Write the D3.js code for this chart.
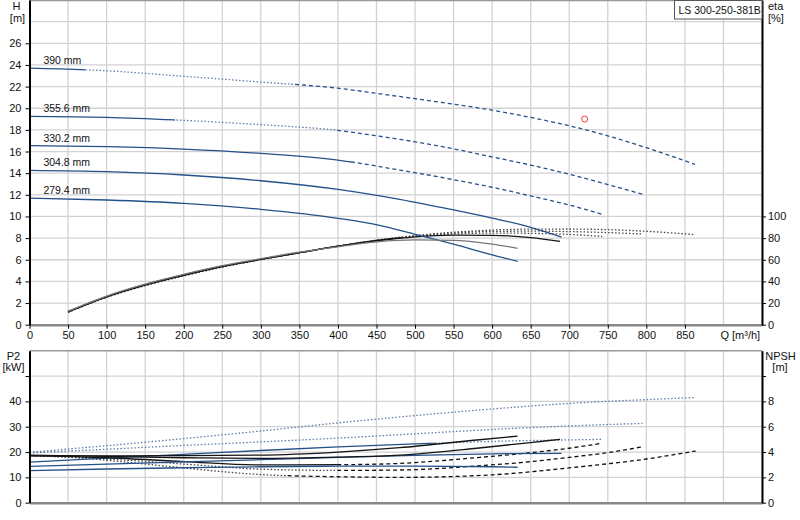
<!DOCTYPE html>
<html>
<head>
<meta charset="utf-8">
<script src="https://cdn.jsdelivr.net/npm/d3@7"></script>
<style>
  body { margin: 0; background: #fff; }
  svg { font-family: "Liberation Sans", Arial, sans-serif; font-size: 11px; }
</style>
</head>
<body>
<svg width="800" height="520"></svg>
<script>
// impeller diameters (same order in every array below)
const diameters = ["390 mm", "355.6 mm", "330.2 mm", "304.8 mm", "279.4 mm"];

// head curves: Q [m3/h] -> H [m]
const headQ = [
  [0, 100, 200, 300, 400, 450, 500, 550, 600, 650, 700, 750, 800, 863],
  [0, 100, 200, 300, 400, 450, 500, 550, 600, 650, 700, 750, 795],
  [0, 100, 200, 300, 400, 480, 550, 600, 650, 700, 743],
  [0, 100, 200, 300, 400, 480, 550, 600, 650, 690],
  [0, 100, 200, 300, 400, 454, 500, 550, 600, 633]
];
const headH = [
  [23.7, 23.46, 22.95, 22.42, 21.85, 21.38, 20.88, 20.38, 19.82, 19.15, 18.38, 17.45, 16.35, 14.82],
  [19.25, 19.16, 18.88, 18.48, 17.95, 17.45, 16.9, 16.25, 15.5, 14.75, 13.9, 12.95, 12.05],
  [16.54, 16.45, 16.23, 15.83, 15.21, 14.29, 13.4, 12.7, 11.9, 11.05, 10.2],
  [14.26, 14.14, 13.83, 13.3, 12.5, 11.58, 10.6, 9.85, 9.0, 8.1],
  [11.7, 11.52, 11.21, 10.66, 9.83, 9.18, 8.35, 7.45, 6.45, 5.86]
];

// efficiency curves: Q [m3/h] -> eta [%]
const etaQ = [
  [50, 100, 150, 200, 250, 300, 350, 400, 450, 500, 550, 600, 650, 700, 750, 800, 863],
  [50, 100, 150, 200, 250, 300, 350, 400, 450, 500, 550, 600, 650, 700, 750, 795],
  [50, 100, 150, 200, 250, 300, 350, 400, 450, 500, 550, 600, 650, 700, 743],
  [50, 100, 150, 200, 250, 300, 350, 400, 450, 500, 550, 600, 650, 688],
  [50, 100, 150, 200, 250, 300, 350, 400, 450, 500, 550, 600, 633]
];
const etaVal = [
  [11.4, 25.3, 36.1, 45.1, 53.2, 60.1, 66.5, 72.5, 78, 82.3, 85.4, 87.4, 88.3, 88.4, 87.8, 86.3, 83.2],
  [11.6, 25.5, 36.3, 45.3, 53.4, 60.2, 66.5, 72.5, 78, 82, 84.8, 86.2, 86.4, 86, 85.1, 83.8],
  [11.8, 25.7, 36.6, 45.6, 53.6, 60.3, 66.5, 72.5, 77.8, 81.5, 83.8, 84.7, 84.4, 83.4, 81.6],
  [12, 26, 37, 46, 54, 60.5, 66.5, 72.5, 77.5, 81.2, 82.8, 82.6, 80.5, 77],
  [12.5, 26.5, 37.5, 46.5, 54.5, 61, 67, 72, 76.5, 78.3, 78, 74.5, 70.6]
];

// shaft power curves: Q [m3/h] -> P2 [kW]
const powerQ = [
  [0, 100, 200, 300, 400, 500, 600, 700, 800, 863],
  [0, 100, 200, 300, 400, 500, 600, 700, 795],
  [0, 100, 200, 300, 400, 500, 600, 700, 743],
  [0, 100, 200, 300, 400, 500, 600, 690],
  [0, 100, 200, 300, 400, 500, 600, 633]
];
const powerVal = [
  [19.9, 22.5, 25.3, 28.3, 31.5, 34.4, 37, 39.2, 40.7, 41.5],
  [19.6, 21.1, 22.6, 24.0, 25.5, 27.2, 28.9, 30.3, 31.3],
  [16.0, 17.6, 19.1, 20.6, 22.0, 23.2, 24.2, 24.8, 25.0],
  [14.3, 15.2, 16.1, 17.0, 17.9, 18.7, 19.3, 19.5],
  [12.7, 13.3, 13.8, 14.2, 14.4, 14.4, 14.2, 14.0]
];

// NPSH curves: Q [m3/h] -> NPSH [m]
const npshQ = [
  [0, 50, 100, 150, 200, 250, 300, 400, 480, 600, 700, 800, 864],
  [0, 100, 200, 300, 400, 480, 580, 650, 700, 750, 795],
  [0, 100, 200, 300, 400, 480, 580, 650, 700, 741],
  [0, 100, 200, 300, 400, 480, 580, 650, 688],
  [0, 100, 200, 300, 400, 480, 580, 633]
];
const npshVal = [
  [3.72, 3.6, 3.35, 3.05, 2.75, 2.45, 2.22, 2.05, 2.0, 2.2, 2.75, 3.45, 4.08],
  [3.72, 3.45, 3.05, 2.65, 2.55, 2.58, 2.9, 3.24, 3.58, 3.95, 4.42],
  [3.72, 3.55, 3.25, 2.98, 3.0, 3.1, 3.56, 3.95, 4.3, 4.68],
  [3.75, 3.65, 3.55, 3.5, 3.6, 3.76, 4.3, 4.75, 5.0],
  [3.7, 3.7, 3.72, 3.76, 4.0, 4.34, 4.95, 5.26]
];

// duty point
const dutyQ = 720, dutyH = 19;

// tick values
const qTicks = d3.range(0, 851, 50);
const hTicks = d3.range(0, 27, 2);
const etaTicks = d3.range(0, 101, 20);
const p2Ticks = d3.range(0, 41, 10);
const npshTicks = d3.range(0, 9, 2);

// line style segments (Q ranges) per diameter
const headSegs = [
  [[0, 70, "solid"], [70, 340, "dot"], [340, 1000, "dash"]],
  [[0, 186, "solid"], [186, 395, "dot"], [395, 1000, "dash"]],
  [[0, 415, "solid"], [415, 1000, "dash"]],
  [[0, 1000, "solid"]],
  [[0, 1000, "solid"]]
];
const etaSegs = [
  [[0, 1000, "dot"]],
  [[0, 1000, "dot"]],
  [[0, 480, "solid"], [480, 1000, "dot"]],
  [[0, 1000, "solid"]],
  [[0, 1000, "gray"]]
];
const powerSegs = [
  [[0, 1000, "dot"]],
  [[0, 1000, "dot"]],
  [[0, 525, "solid"], [525, 1000, "dot"]],
  [[0, 1000, "solid"]],
  [[0, 1000, "solid"]]
];
const npshSegs = [
  [[0, 330, "dot"], [330, 1000, "dash"]],
  [[0, 400, "dot"], [400, 1000, "dash"]],
  [[0, 400, "solid"], [400, 1000, "dash"]],
  [[0, 1000, "solid"]],
  [[0, 1000, "solid"]]
];

const styles = {
  blue: {
    solid: {stroke: "#24508a", dash: null},
    dot: {stroke: "#5f7ca6", dash: "1.5,2"},
    dash: {stroke: "#24508a", dash: "4,3"},
    gray: {stroke: "#8a93a8", dash: null}
  },
  black: {
    solid: {stroke: "#151515", dash: null},
    dot: {stroke: "#444", dash: "1.5,2"},
    dash: {stroke: "#111", dash: "4,3"},
    gray: {stroke: "#777", dash: null}
  }
};

const svg = d3.select("svg");

const x = d3.scaleLinear().domain([0, 950]).range([29.5, 762]);
const yH = d3.scaleLinear().domain([0, 30]).range([324.7, 0]);
const yEta = d3.scaleLinear().domain([0, 300]).range([324.7, 0]);
const yP = d3.scaleLinear().domain([0, 60]).range([502.7, 350.7]);
const yN = d3.scaleLinear().domain([0, 12]).range([502.7, 350.7]);

const defs = svg.append("defs");
let clipId = 0;

// grid
const grid = svg.append("g").attr("stroke", "#d2d2d2").attr("stroke-width", 1.3);
d3.range(50, 951, 50).forEach(q => {
  grid.append("line").attr("x1", x(q)).attr("x2", x(q)).attr("y1", yH(30)).attr("y2", yH(0));
  grid.append("line").attr("x1", x(q)).attr("x2", x(q)).attr("y1", yP(60)).attr("y2", yP(0));
});
d3.range(2, 30, 2).forEach(h => {
  grid.append("line").attr("x1", x(0)).attr("x2", x(950)).attr("y1", yH(h)).attr("y2", yH(h));
});
d3.range(10, 60, 10).forEach(p => {
  grid.append("line").attr("x1", x(0)).attr("x2", x(950)).attr("y1", yP(p)).attr("y2", yP(p));
});

// frame tops
svg.append("line").attr("x1", x(0)).attr("x2", x(950)).attr("y1", 0.5).attr("y2", 0.5)
  .attr("stroke", "#999").attr("stroke-width", 1.5);
svg.append("line").attr("x1", x(0)).attr("x2", x(950)).attr("y1", yP(60)).attr("y2", yP(60))
  .attr("stroke", "#999").attr("stroke-width", 1.5);

function drawCurve(g, qs, vs, yScale, segs, family) {
  const pts = qs.map((q, i) => [q, vs[i]]);
  const d = d3.line().x(p => x(p[0])).y(p => yScale(p[1])).curve(d3.curveMonotoneX)(pts);
  segs.forEach(s => {
    const id = "clip" + (clipId++);
    defs.append("clipPath").attr("id", id).append("rect")
      .attr("x", x(s[0])).attr("y", 0)
      .attr("width", x(Math.min(s[1], 950)) - x(s[0]) + 2).attr("height", 520);
    const st = styles[family][s[2]];
    g.append("path")
      .attr("d", d)
      .attr("clip-path", `url(#${id})`)
      .attr("fill", "none")
      .attr("stroke", st.stroke)
      .attr("stroke-width", 1.3)
      .attr("stroke-dasharray", st.dash);
  });
}

const curves = svg.append("g");
diameters.forEach((name, i) => {
  drawCurve(curves, headQ[i], headH[i], yH, headSegs[i], "blue");
  drawCurve(curves, etaQ[i], etaVal[i], yEta, etaSegs[i], "black");
  drawCurve(curves, powerQ[i], powerVal[i], yP, powerSegs[i], "blue");
  drawCurve(curves, npshQ[i], npshVal[i], yN, npshSegs[i], "black");

  svg.append("text")
    .attr("x", x(18))
    .attr("y", yH(headH[i][0]) - 8)
    .attr("dominant-baseline", "central")
    .style("font-size", "10.5px")
    .attr("fill", "#111")
    .text(name);
});

// duty point
svg.append("circle")
  .attr("cx", x(dutyQ)).attr("cy", yH(dutyH)).attr("r", 3)
  .attr("fill", "none").attr("stroke", "#f03c3c").attr("stroke-width", 1);

// axes
function styleAxis(g, color, width) {
  g.select(".domain").attr("stroke", color).attr("stroke-width", width);
  g.selectAll(".tick line").attr("stroke", "#000");
  g.selectAll(".tick text").attr("fill", "#111").style("font-size", "11px")
    .style("font-family", "'Liberation Sans', Arial, sans-serif");
}

styleAxis(svg.append("g").attr("transform", `translate(0,${yH(0)})`)
  .call(d3.axisBottom(x).tickValues(qTicks).tickSize(4).tickPadding(3).tickSizeOuter(0)), "#888", 2.5);
styleAxis(svg.append("g").attr("transform", `translate(${x(0)},0)`)
  .call(d3.axisLeft(yH).tickValues(hTicks).tickSize(4).tickPadding(4).tickSizeOuter(0)), "#000", 2);
styleAxis(svg.append("g").attr("transform", `translate(${x(950)},0)`)
  .call(d3.axisRight(yEta).tickValues(etaTicks).tickSize(4).tickPadding(2).tickSizeOuter(0)), "#000", 2);

styleAxis(svg.append("g").attr("transform", `translate(0,${yP(0)})`)
  .call(d3.axisBottom(x).tickValues([]).tickSizeOuter(0)), "#888", 2.5);
styleAxis(svg.append("g").attr("transform", `translate(${x(0)},0)`)
  .call(d3.axisLeft(yP).tickValues(p2Ticks.concat([50])).tickFormat(v => v === 50 ? "" : v)
    .tickSize(4).tickPadding(4).tickSizeOuter(0)), "#000", 2);
styleAxis(svg.append("g").attr("transform", `translate(${x(950)},0)`)
  .call(d3.axisRight(yN).tickValues(npshTicks.concat([10])).tickFormat(v => v === 10 ? "" : v)
    .tickSize(4).tickPadding(2).tickSizeOuter(0)), "#000", 2);

// axis titles
const titles = svg.append("g").attr("fill", "#111").style("font-size", "11px")
  .attr("dominant-baseline", "central");
titles.append("text").attr("x", 16.5).attr("y", 6).attr("text-anchor", "middle").text("H");
titles.append("text").attr("x", 17.5).attr("y", 18).attr("text-anchor", "middle").text("[m]");
titles.append("text").attr("x", 768).attr("y", 6).text("eta");
titles.append("text").attr("x", 768).attr("y", 18).text("[%]");
titles.append("text").attr("x", x(900) - 3).attr("y", 335).text("Q [m³/h]");
titles.append("text").attr("x", 13.5).attr("y", 356).attr("text-anchor", "middle").text("P2");
titles.append("text").attr("x", 13.5).attr("y", 367).attr("text-anchor", "middle").text("[kW]");
titles.append("text").attr("x", 780.5).attr("y", 356).attr("text-anchor", "middle").text("NPSH");
titles.append("text").attr("x", 780).attr("y", 367).attr("text-anchor", "middle").text("[m]");

// product label box
const box = svg.append("g");
box.append("rect").attr("x", 674.5).attr("y", 0.5).attr("width", 87.5).attr("height", 18.5)
  .attr("fill", "#fff").attr("stroke", "#555").attr("stroke-width", 1);
box.append("text").attr("x", 678.5).attr("y", 10).attr("dominant-baseline", "central")
  .style("font-size", "10.5px").attr("fill", "#111").text("LS 300-250-381B");
</script>
</body>
</html>
